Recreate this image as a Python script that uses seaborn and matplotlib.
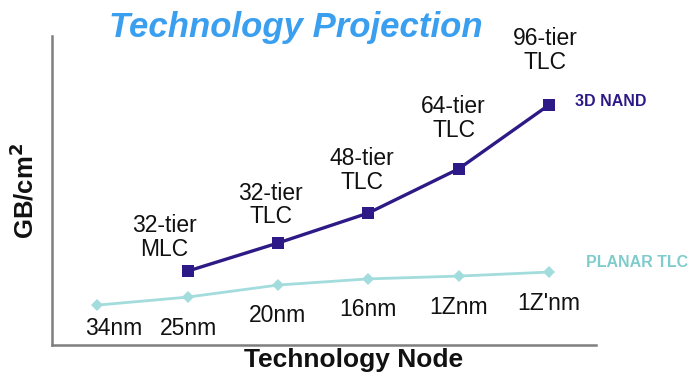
import matplotlib
matplotlib.use("Agg")
import matplotlib.pyplot as plt
import seaborn as sns
import pandas as pd

# ---- data ----
nodes = ["34nm", "25nm", "20nm", "16nm", "1Znm", "1Z'nm"]
planar_tlc = [12.9, 15.5, 19.4, 21.4, 22.3, 23.6]
nand_nodes = ["25nm", "20nm", "16nm", "1Znm", "1Z'nm"]
nand_3d = [23.9, 33.0, 42.7, 57.0, 77.7]
nand_labels = ["32-tier\nMLC", "32-tier\nTLC", "48-tier\nTLC", "64-tier\nTLC", "96-tier\nTLC"]

# ---- style ----
sns.set_theme(style="white")
plt.rcParams["font.family"] = ["Liberation Sans", "DejaVu Sans"]

NAND_COLOR = "#2e1a87"
PLANAR_COLOR = "#a3dcdc"
PLANAR_TEXT = "#80cccc"
TITLE_COLOR = "#3b9ff0"

fig = plt.figure(figsize=(6.97, 3.77), dpi=100)
ax = fig.add_axes([52 / 697, 32 / 377, 544 / 697, 309 / 377])

pos = {n: i for i, n in enumerate(nodes)}
df_planar = pd.DataFrame({"x": [pos[n] for n in nodes], "y": planar_tlc})
df_nand = pd.DataFrame({"x": [pos[n] for n in nand_nodes], "y": nand_3d})

sns.lineplot(data=df_planar, x="x", y="y", ax=ax, color=PLANAR_COLOR,
             marker="D", markersize=6.5, markeredgewidth=0, linewidth=2.0)
sns.lineplot(data=df_nand, x="x", y="y", ax=ax, color=NAND_COLOR,
             marker="s", markersize=8.5, markeredgewidth=0, linewidth=2.4)

ax.set_xlim(-0.5, 5.52)
ax.set_ylim(0, 100)
ax.set_xticks([])
ax.set_yticks([])
for s in ["top", "right"]:
    ax.spines[s].set_visible(False)
for s in ["left", "bottom"]:
    ax.spines[s].set_color("#7f7f7f")
    ax.spines[s].set_linewidth(1.8)

# node labels under the planar points
node_offsets = [(17, -23), (1, -31), (0, -30), (0, -31), (0, -31), (0, -31)]
for n, v, off in zip(nodes, planar_tlc, node_offsets):
    ax.annotate(n, (pos[n], v), xytext=off, textcoords="offset pixels",
                ha="center", va="center", fontsize=16.5, color="#111111")

# tier labels above the 3D NAND points
tier_offsets = [(-23, 34), (-7, 38), (-6, 43), (-5, 50), (-4, 54)]
for n, v, lab, off in zip(nand_nodes, nand_3d, nand_labels, tier_offsets):
    ax.annotate(lab, (pos[n], v), xytext=off, textcoords="offset pixels",
                ha="center", va="center", fontsize=16.5, color="#111111",
                linespacing=1.05)

# series labels
ax.annotate("3D NAND", (pos[nand_nodes[-1]], nand_3d[-1]), xytext=(26, 3),
            textcoords="offset pixels", ha="left", va="center",
            fontsize=11.5, fontweight="bold", color=NAND_COLOR)
ax.annotate("PLANAR TLC", (pos[nodes[-1]], planar_tlc[-1]), xytext=(37, 10),
            textcoords="offset pixels", ha="left", va="center",
            fontsize=11.5, fontweight="bold", color=PLANAR_TEXT)

ax.set_xlabel("Technology Node", fontsize=19, fontweight="bold", color="#111111", labelpad=2)
ax.xaxis.label.set_x((354 - 52) / 544)
ax.set_ylabel("GB/cm$^\\mathbf{2}$", fontsize=18.5, fontweight="bold", color="#111111", labelpad=10)

fig.text(296 / 697, 1 - 28 / 377, "Technology Projection", ha="center", va="center",
         fontsize=25, fontweight="bold", fontstyle="italic", color=TITLE_COLOR)

fig.savefig("out.png", dpi=100)
